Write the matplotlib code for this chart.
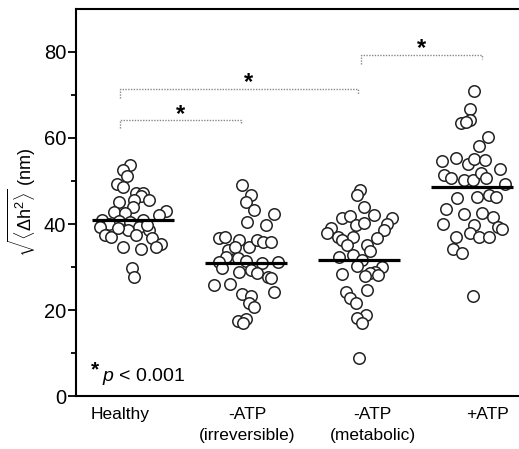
import numpy as np
import matplotlib
matplotlib.use("Agg")
import matplotlib.pyplot as plt

plt.rcParams['font.family'] = ['Liberation Sans Narrow', 'Liberation Sans', 'DejaVu Sans']
plt.rcParams['mathtext.fontset'] = 'custom'
plt.rcParams['mathtext.rm'] = 'Liberation Sans'
plt.rcParams['mathtext.it'] = 'Liberation Sans:italic'

# groups and label positions
groups = ["Healthy", "-ATP\n(irreversible)", "-ATP\n(metabolic)", "+ATP"]
positions = [1, 2, 3, 4]
label_pos = [0.885, 2.01, 3.12, 4.14]
means = [40.9, 31.0, 31.6, 48.7]

# values (nm), with their horizontal scatter offsets
healthy_y = [53.7, 52.6, 51.2, 49.2, 48.7, 47.1, 47.3, 46.4, 45.6, 45.6, 45.2, 43.9,
             42.9, 43.0, 42.1, 42.5, 40.9, 40.7, 40.9, 40.5, 40.1, 39.4, 39.4, 38.6,
             38.6, 37.4, 37.0, 37.4, 36.7, 35.3, 34.6, 34.6, 34.1, 29.7, 27.7, 39.0, 39.8]
healthy_dx = [-0.03, -0.09, -0.05, -0.14, -0.09, 0.03, 0.09, 0.07, 0.14, 0.01, -0.12, 0.00,
              -0.17, 0.29, 0.23, -0.07, -0.27, -0.12, 0.09, -0.03, -0.21, -0.29, 0.05, 0.14,
              -0.04, -0.25, -0.19, 0.03, 0.17, 0.25, 0.20, -0.09, 0.07, -0.01, 0.01, -0.13, 0.12]

irrev_y = [49.1, 46.7, 45.2, 43.3, 42.3, 39.8, 40.5, 36.8, 37.0, 36.3, 34.7, 36.3, 35.9,
           35.7, 34.0, 34.6, 32.4, 32.0, 31.2, 31.5, 30.9, 31.2, 29.7, 28.9, 29.3, 28.5,
           27.7, 27.4, 25.8, 26.0, 24.3, 23.7, 23.3, 21.6, 20.6, 17.4, 17.8, 16.9]
irrev_dx = [-0.04, 0.04, 0.00, 0.07, 0.25, 0.18, 0.01, -0.24, -0.19, -0.06, 0.03, 0.10, 0.15,
            0.22, -0.16, -0.10, -0.18, -0.07, -0.24, 0.00, 0.14, 0.28, -0.21, -0.06, 0.04, 0.10,
            0.19, 0.22, -0.28, -0.14, 0.25, -0.04, 0.04, 0.03, 0.07, -0.07, 0.00, -0.03]

metab_y = [47.9, 46.7, 44.0, 41.3, 41.9, 42.1, 41.3, 39.9, 39.8, 40.2, 39.0, 38.0, 38.6,
           37.0, 37.0, 36.7, 36.3, 35.1, 35.1, 33.7, 32.8, 32.4, 31.6, 30.3, 29.9, 28.9,
           28.5, 28.0, 28.3, 24.7, 24.3, 22.9, 21.6, 18.8, 18.2, 16.9, 8.8, 28.1]
metab_dx = [0.01, -0.02, 0.04, -0.15, -0.08, 0.13, 0.29, 0.25, -0.03, 0.04, -0.25, -0.28, 0.22,
            -0.19, -0.05, 0.16, -0.15, -0.11, 0.07, 0.10, -0.05, -0.18, 0.03, -0.02, 0.20, 0.14,
            0.10, 0.05, -0.15, 0.07, -0.12, -0.08, -0.03, 0.06, -0.02, 0.03, 0.00, 0.17]

atp_y = [71.0, 66.7, 64.3, 63.6, 63.8, 60.2, 58.1, 54.7, 55.3, 54.0, 55.0, 54.9, 52.7,
         51.4, 50.6, 50.2, 50.2, 51.8, 50.6, 49.4, 46.0, 46.2, 46.7, 46.3, 43.6, 42.3,
         42.5, 41.7, 40.1, 39.8, 39.4, 38.8, 37.8, 37.0, 37.0, 37.0, 34.3, 33.2, 23.3]
atp_dx = [0.02, -0.02, -0.02, -0.10, -0.05, 0.14, 0.06, -0.27, -0.14, -0.04, 0.02, 0.11, 0.25,
          -0.25, -0.19, -0.07, 0.01, 0.08, 0.12, 0.29, -0.13, 0.04, 0.15, 0.21, -0.23, -0.07,
          0.09, 0.18, -0.26, 0.02, 0.23, 0.26, -0.02, 0.06, 0.15, -0.14, -0.17, -0.09, 0.01]

values = [healthy_y, irrev_y, metab_y, atp_y]
offsets = [healthy_dx, irrev_dx, metab_dx, atp_dx]

# significance brackets: (x start, x end, y, tick drop, star x, star y)
brackets = [(0.885, 1.955, 64.3, 2.0, 1.42, 65.4),
            (0.885, 2.99, 71.4, 2.2, 2.02, 73.0),
            (3.02, 4.09, 79.3, 2.0, 3.55, 80.8)]

fig = plt.figure(figsize=(5.19, 4.49), dpi=100)
ax = fig.add_axes([0.1464, 0.118, 0.852, 0.862])

for pos, ys, dxs, m in zip(positions, values, offsets, means):
    xs = pos + np.array(dxs)
    ax.scatter(xs, ys, s=68, facecolor='white', edgecolor='#222222', linewidth=1.1, zorder=3)
    ax.plot([pos - 0.365, pos + 0.365], [m, m], color='black', lw=2.3, zorder=4,
            solid_capstyle='butt')

for x0, x1, yb, drop, sx, sy in brackets:
    ax.plot([x0, x0, x1, x1], [yb - drop, yb, yb, yb - drop * 0.5], color='#888888',
            lw=1.0, ls=(0, (1, 1)), zorder=2)
    ax.text(sx, sy, '*', fontsize=17, fontweight='bold', ha='center', va='center')

ax.text(0.63, 6.0, '*', fontsize=15, fontweight='bold', ha='left', va='center')
ax.text(0.73, 4.6, r'$p$ < 0.001', fontsize=14, ha='left', va='center')

ax.set_xlim(0.496, 4.407)
ax.set_ylim(0, 90)
ax.set_xticks(label_pos)
ax.set_xticklabels(groups, fontsize=12.5, linespacing=1.45)
ax.tick_params(axis='x', length=0, pad=8)
ax.set_yticks([0, 20, 40, 60, 80])
ax.set_yticks([10, 30, 50, 70], minor=True)
ax.tick_params(axis='y', which='major', direction='out', length=5.5, width=1.3,
               labelsize=14.5, pad=1.5)
ax.tick_params(axis='y', which='minor', direction='out', length=3.5, width=1.3)
ax.set_ylabel(r'$\sqrt{\langle\Delta \mathrm{h}^2\rangle}$ (nm)', fontsize=13, labelpad=4)

for side in ['left', 'top', 'bottom']:
    ax.spines[side].set_linewidth(1.5)
ax.spines['right'].set_visible(False)

fig.savefig('out.png', dpi=100)
